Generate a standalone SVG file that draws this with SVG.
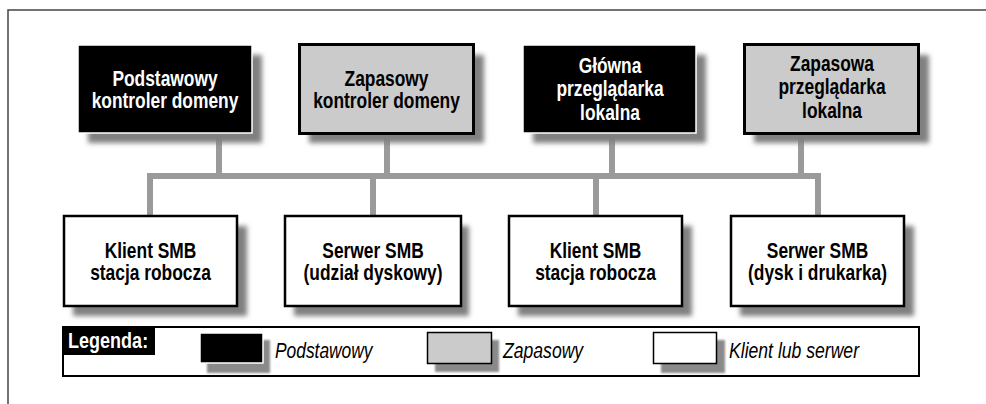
<svg xmlns="http://www.w3.org/2000/svg" width="986" height="404" viewBox="0 0 986 404">
<defs>
<filter id="sh" x="-20%" y="-20%" width="140%" height="140%"><feGaussianBlur stdDeviation="2.5"/></filter>
<filter id="sh2" x="-20%" y="-20%" width="140%" height="140%"><feGaussianBlur stdDeviation="1"/></filter>
<style>
.frame{fill:none;stroke:#444;stroke-width:1.5}
.shadow{fill:#808080;filter:url(#sh)}
.lshadow{fill:#8a8a8a;filter:url(#sh2)}
.black{fill:#000;stroke:#fff;stroke-width:1.5}
.gray{fill:#cbcbcb;stroke:#000;stroke-width:3}
.white{fill:#fff;stroke:#000;stroke-width:2.5}
.conn{fill:none;stroke:#9a9a9a;stroke-width:6;stroke-linejoin:miter;stroke-linecap:butt}
.t{font-family:"Liberation Sans",Arial,sans-serif;font-weight:bold;font-size:22px;text-anchor:middle}
.w{fill:#fff}
.k{fill:#000}
.li{font-family:"Liberation Sans",Arial,sans-serif;font-style:italic;font-size:22px;fill:#000}
</style>
</defs>
<rect width="986" height="404" fill="#fff"/>
<path class="frame" d="M8,404 V10 H986"/>

<g id="connectors">
<path class="conn" d="M150,216 V176 H818 V216"/>
<path class="conn" d="M219,133 V176"/>
<path class="conn" d="M387,135 V176"/>
<path class="conn" d="M612,133 V176"/>
<path class="conn" d="M801,135 V176"/>
<path class="conn" d="M373,176 V216"/>
<path class="conn" d="M596,176 V216"/>
</g>

<g id="n1">
<rect class="shadow" x="88" y="55" width="174" height="88"/>
<rect class="black" x="78" y="45" width="174" height="88"/>
<g class="t w" transform="translate(165 0) scale(0.79 1)"><text x="0" y="86">Podstawowy</text><text x="0" y="108">kontroler domeny</text></g>
</g>
<g id="n2">
<rect class="shadow" x="309" y="55" width="175" height="88"/>
<rect class="gray" x="299.5" y="44.5" width="174" height="89"/>
<g class="t k" transform="translate(386.5 0) scale(0.79 1)"><text x="0" y="86">Zapasowy</text><text x="0" y="108">kontroler domeny</text></g>
</g>
<g id="n3">
<rect class="shadow" x="533" y="55" width="173" height="88"/>
<rect class="black" x="523" y="45" width="173" height="88"/>
<g class="t w" transform="translate(610 0) scale(0.79 1)"><text x="0" y="73">Główna</text><text x="0" y="96">przeglądarka</text><text x="0" y="120">lokalna</text></g>
</g>
<g id="n4">
<rect class="shadow" x="754" y="55" width="175" height="88"/>
<rect class="gray" x="744.5" y="44.5" width="174" height="89"/>
<g class="t k" transform="translate(832 0) scale(0.79 1)"><text x="0" y="71">Zapasowa</text><text x="0" y="94">przeglądarka</text><text x="0" y="118">lokalna</text></g>
</g>

<g id="n5">
<rect class="shadow" x="73" y="226" width="174" height="90"/>
<rect class="white" x="64" y="216" width="173" height="90"/>
<g class="t k" transform="translate(150.5 0) scale(0.79 1)"><text x="0" y="258">Klient SMB</text><text x="0" y="280">stacja robocza</text></g>
</g>
<g id="n6">
<rect class="shadow" x="294" y="226" width="175" height="90"/>
<rect class="white" x="285" y="216" width="176" height="90"/>
<g class="t k" transform="translate(373 0) scale(0.79 1)"><text x="0" y="258">Serwer SMB</text><text x="0" y="280">(udział dyskowy)</text></g>
</g>
<g id="n7">
<rect class="shadow" x="518" y="226" width="174" height="90"/>
<rect class="white" x="509" y="216" width="173" height="90"/>
<g class="t k" transform="translate(595.5 0) scale(0.79 1)"><text x="0" y="258">Klient SMB</text><text x="0" y="280">stacja robocza</text></g>
</g>
<g id="n8">
<rect class="shadow" x="740" y="226" width="174" height="90"/>
<rect class="white" x="731" y="216" width="173" height="90"/>
<g class="t k" transform="translate(817.5 0) scale(0.79 1)"><text x="0" y="258">Serwer SMB</text><text x="0" y="280">(dysk i drukarka)</text></g>
</g>

<g id="legend">
<rect x="63" y="327" width="856" height="49" fill="#fff" stroke="#000" stroke-width="2"/>
<rect x="62" y="326" width="93" height="29" fill="#000"/>
<g class="t w" style="text-anchor:start" transform="translate(68 0) scale(0.82 1)"><text x="0" y="348">Legenda:</text></g>
<rect class="lshadow" x="207" y="340" width="63" height="33"/>
<rect class="black" x="200" y="333" width="63" height="30"/>
<g class="li" transform="translate(275 0) scale(0.79 1)"><text x="0" y="358">Podstawowy</text></g>
<rect class="lshadow" x="435" y="340" width="64" height="32"/>
<rect x="427.5" y="332.5" width="64" height="31" fill="#cbcbcb" stroke="#000" stroke-width="1.5"/>
<g class="li" transform="translate(503 0) scale(0.8 1)"><text x="0" y="358">Zapasowy</text></g>
<rect class="lshadow" x="661" y="340" width="64" height="33"/>
<rect x="653.5" y="332.5" width="63" height="31" fill="#fff" stroke="#000" stroke-width="1.5"/>
<g class="li" transform="translate(729 0) scale(0.8 1)"><text x="0" y="358">Klient lub serwer</text></g>
</g>
</svg>
